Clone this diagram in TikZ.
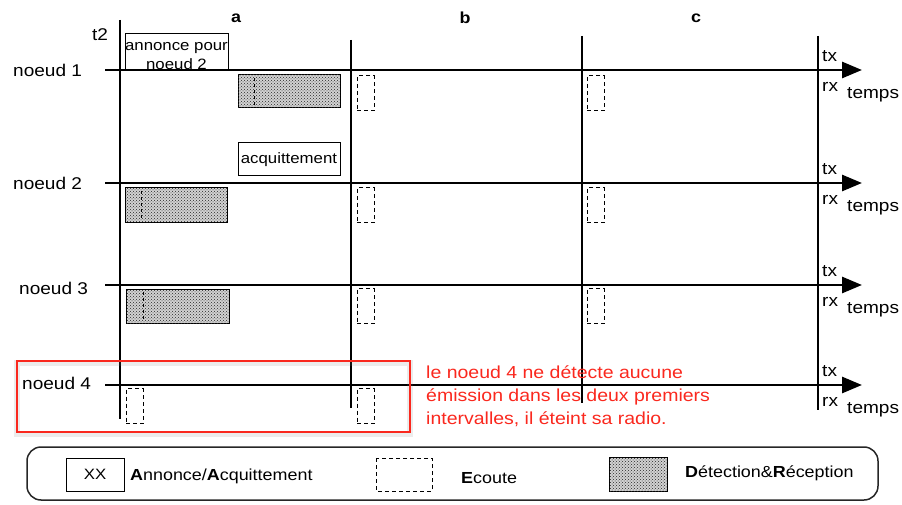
\documentclass[tikz,border=0pt]{standalone}
\usepackage{fontspec}
\setmainfont[FakeStretch=1.12]{Liberation Sans}
\usepackage{tikz}
\usetikzlibrary{patterns, arrows.meta}
\definecolor{rouge}{RGB}{250,40,30}

\begin{document}
\begin{tikzpicture}[x=1pt,y=-1pt,
    axe/.style={line width=2.8pt},
    fleche/.style={line width=2.8pt,-{Triangle[length=20pt,width=16pt]}},
    lbl/.style={font=\fontsize{17}{19}\selectfont,inner sep=0pt},
    leg/.style={font=\fontsize{16}{18}\selectfont,inner sep=0pt},
    petit/.style={font=\fontsize{15}{17}\selectfont,inner sep=0pt},
    annbox/.style={draw,line width=1pt,fill=white},
    ecoute/.style={draw,line width=1pt,dash pattern=on 4pt off 3pt,minimum width=17pt,minimum height=35pt,inner sep=0pt},
    recep/.style={draw,line width=1pt,fill=gray!35,postaction={pattern=crosshatch dots,pattern color=black!85}}]
    \useasboundingbox (0,0) rectangle (902,505);

    \node[lbl,font=\fontsize{16}{18}\selectfont\bfseries] (ta) at (236,18) {a};
    \node[lbl,font=\fontsize{16}{18}\selectfont\bfseries] (tb) at (465,18) {b};
    \node[lbl,font=\fontsize{16}{18}\selectfont\bfseries] (tc) at (696,18) {c};
    \node[lbl] (t2) at (100,35) {t2};

    \draw[annbox] (125,34) rectangle (228,70);
    \node[petit,align=center,font=\fontsize{15}{19}\selectfont] (ann) at (176.5,56) {annonce pour\\noeud 2};
    \draw[recep] (238,75) rectangle (340,108);
    \draw[line width=1pt,dash pattern=on 3pt off 3pt] (254,78) -- (254,106);
    \draw[annbox] (238,143) rectangle (340,176);
    \node[petit] (acq) at (289,159.5) {acquittement};
    \draw[recep] (125,188) rectangle (227,223);
    \draw[line width=1pt,dash pattern=on 3pt off 3pt] (141,191) -- (141,220);
    \draw[recep] (126,289) rectangle (229,323);
    \draw[line width=1pt,dash pattern=on 3pt off 3pt] (143,292) -- (143,320);

    \node[ecoute] (e1b) at (365.5,93.5) {};
    \node[ecoute] (e1c) at (595.5,93.5) {};
    \node[ecoute] (e2b) at (365.5,205.5) {};
    \node[ecoute] (e2c) at (595.5,205.5) {};
    \node[ecoute] (e3b) at (365.5,306) {};
    \node[ecoute] (e3c) at (595.5,306) {};
    \node[ecoute] (e4a) at (134.5,406) {};
    \node[ecoute] (e4b) at (365.5,406) {};

    \coordinate (va1) at (120,20);  \coordinate (va2) at (120,419);
    \coordinate (vb1) at (351,40);  \coordinate (vb2) at (351,408);
    \coordinate (vc1) at (582,36);  \coordinate (vc2) at (582,403);
    \coordinate (vd1) at (818,36);  \coordinate (vd2) at (818,410);
    \draw[axe] (va1) -- (va2);
    \draw[axe] (vb1) -- (vb2);
    \draw[axe] (vc1) -- (vc2);
    \draw[axe] (vd1) -- (vd2);

    \coordinate (s1) at (105,70);  \coordinate (f1) at (862,70);
    \coordinate (s2) at (105,183); \coordinate (f2) at (862,183);
    \coordinate (s3) at (105,285); \coordinate (f3) at (862,285);
    \coordinate (s4) at (105,385); \coordinate (f4) at (862,385);
    \draw[fleche] (s1) -- (f1);
    \draw[fleche] (s2) -- (f2);
    \draw[fleche] (s3) -- (f3);
    \draw[fleche] (s4) -- (f4);

    \node[lbl,anchor=west] (n1) at (13,70) {noeud 1};
    \node[lbl,anchor=west] (n2) at (13,183) {noeud 2};
    \node[lbl,anchor=west] (n3) at (19,288) {noeud 3};
    \node[lbl,anchor=west] (n4) at (22,383) {noeud 4};

    \node[lbl,anchor=west] (tx1) at (822,56) {tx};
    \node[lbl,anchor=west] (rx1) at (822,87) {rx};
    \node[lbl,anchor=west] (tp1) at (847,95) {temps};
    \node[lbl,anchor=west] (tx2) at (822,169) {tx};
    \node[lbl,anchor=west] (rx2) at (822,200) {rx};
    \node[lbl,anchor=west] (tp2) at (847,208) {temps};
    \node[lbl,anchor=west] (tx3) at (822,271) {tx};
    \node[lbl,anchor=west] (rx3) at (822,302) {rx};
    \node[lbl,anchor=west] (tp3) at (847,310) {temps};
    \node[lbl,anchor=west] (tx4) at (822,371) {tx};
    \node[lbl,anchor=west] (rx4) at (822,402) {rx};
    \node[lbl,anchor=west] (tp4) at (847,410) {temps};

    \draw[gray,opacity=0.15,line width=6pt] (17,363) rectangle (410,434);
    \draw[rouge,line width=2pt] (17,361) rectangle (410,432);
    \node[lbl,anchor=north west,align=left,text=rouge,font=\fontsize{17.4}{23.2}\selectfont] (msg) at (426,365)
        {le noeud 4 ne détecte aucune\\émission dans les deux premiers\\intervalles, il éteint sa radio.};

    \draw[gray!30!black,line width=1.5pt,rounded corners=14pt] (27,447) rectangle (878,500);
    \draw[line width=1pt] (66,458) rectangle (124,491);
    \node[petit] (xx) at (95,474.5) {XX};
    \node[leg,anchor=west] (l1) at (130,476) {\textbf{A}nnonce/\textbf{A}cquittement};
    \draw[line width=1pt,dash pattern=on 4pt off 3pt] (376,458) rectangle (432,491);
    \node[leg,anchor=west] (l2) at (461,478) {\textbf{E}coute};
    \draw[recep] (609,457) rectangle (667,491);
    \node[leg,anchor=west] (l3) at (685,473) {\textbf{D}étection\&\textbf{R}éception};
\end{tikzpicture}
\end{document}
